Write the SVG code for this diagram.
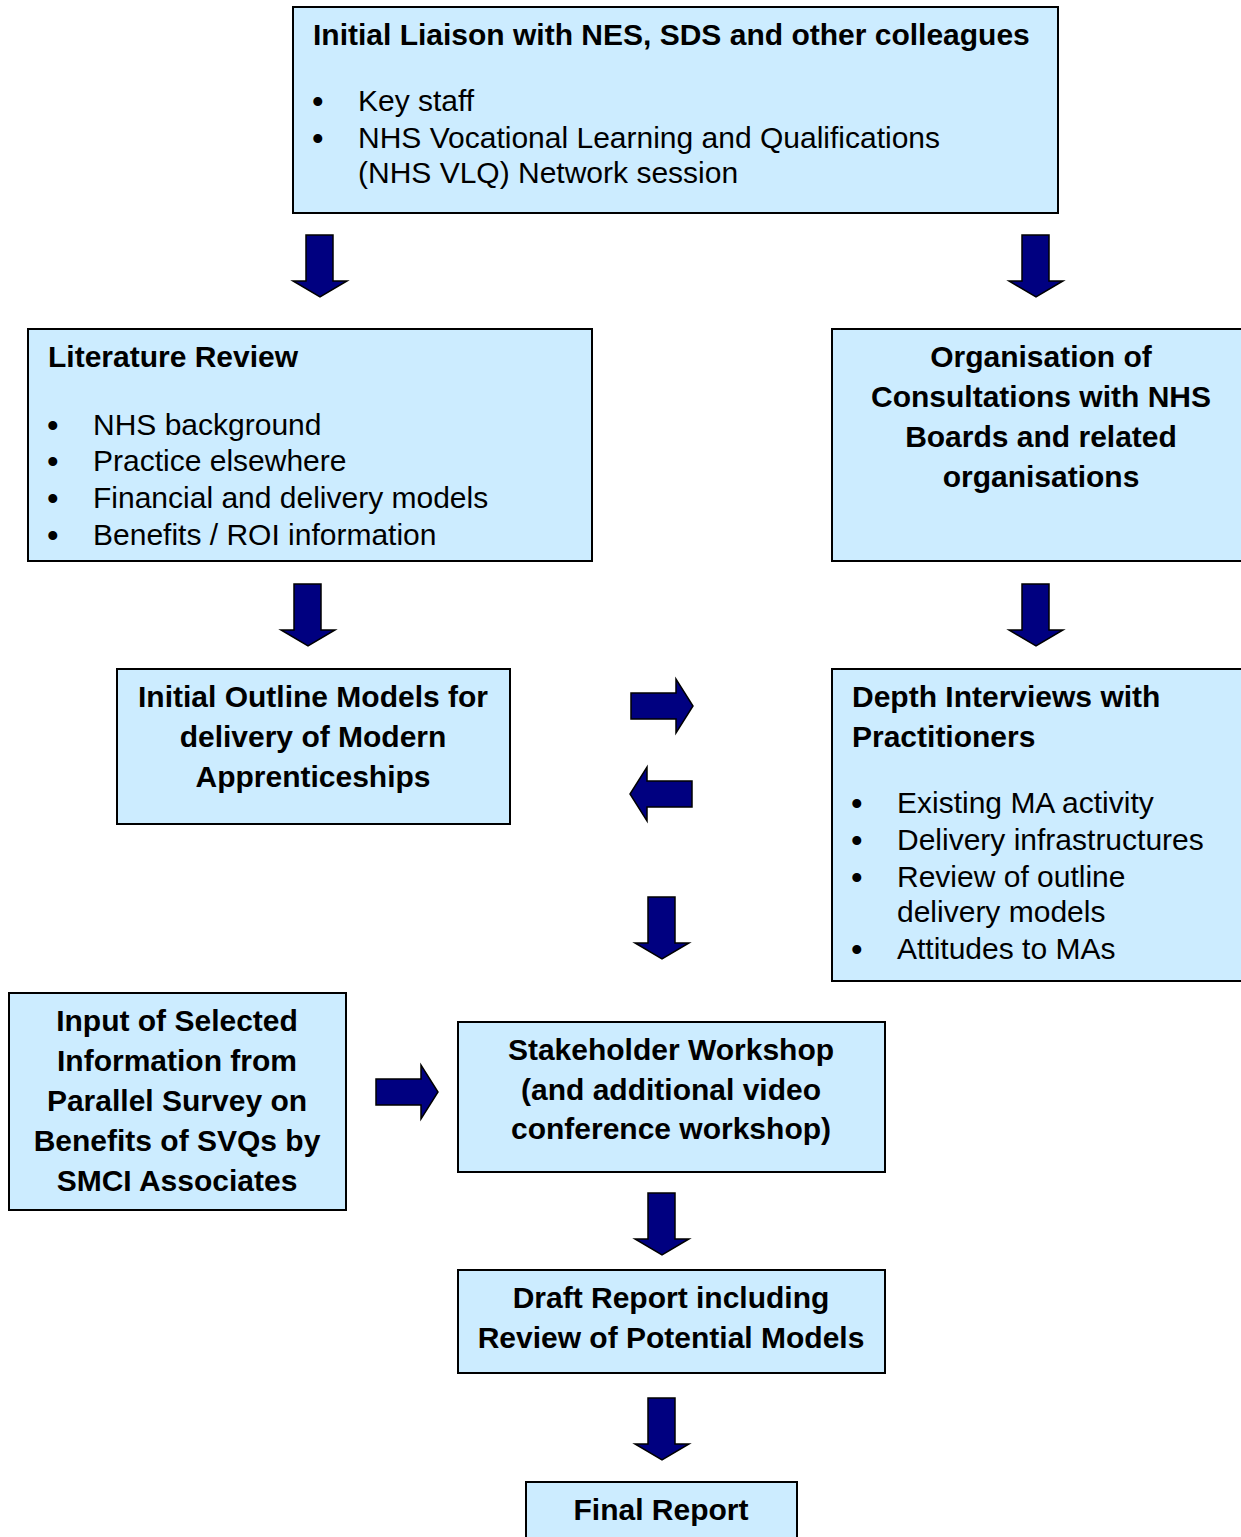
<svg xmlns="http://www.w3.org/2000/svg" width="1241" height="1537" viewBox="0 0 1241 1537">
<style>
.box{fill:#CCECFF;stroke:#000;stroke-width:2}
.arr{fill:#000080;stroke:#000;stroke-width:1.5;stroke-linejoin:miter}
text{font-family:"Liberation Sans",Arial,sans-serif;font-size:30px;fill:#000}
.b{font-weight:bold}
.c{text-anchor:middle}
.d{font-size:33px}
</style>
<defs>
<path id="down" d="M-14,0 H13 V46 H27 L0,62 L-27,46 H-14 Z"/>
<path id="right" d="M0,-13 H45 V-27 L62,0 L45,27 V13 H0 Z"/>
<path id="left" d="M0,-13 H-45 V-27 L-62,0 L-45,27 V13 H0 Z"/>
</defs>
<rect width="1241" height="1537" fill="#fff"/>

<g id="connectors">
<use href="#down" class="arr" x="320" y="235"/>
<use href="#down" class="arr" x="1036" y="235"/>
<use href="#down" class="arr" x="308" y="584"/>
<use href="#down" class="arr" x="1036" y="584"/>
<use href="#right" class="arr" x="631" y="706"/>
<use href="#left" class="arr" x="692" y="794"/>
<use href="#down" class="arr" x="662" y="897"/>
<use href="#right" class="arr" x="376" y="1092"/>
<use href="#down" class="arr" x="662" y="1193"/>
<use href="#down" class="arr" x="662" y="1398"/>
</g>

<g id="liaison">
<rect class="box" x="293" y="7" width="765" height="206"/>
<text class="b" x="313" y="45">Initial Liaison with NES, SDS and other colleagues</text>
<text class="d" x="312" y="113">•</text><text x="358" y="111">Key staff</text>
<text class="d" x="312" y="150">•</text><text x="358" y="148">NHS Vocational Learning and Qualifications</text>
<text x="358" y="183">(NHS VLQ) Network session</text>
</g>

<g id="literature">
<rect class="box" x="28" y="329" width="564" height="232"/>
<text class="b" x="48" y="367">Literature Review</text>
<text class="d" x="47" y="437">•</text><text x="93" y="435">NHS background</text>
<text class="d" x="47" y="473">•</text><text x="93" y="471">Practice elsewhere</text>
<text class="d" x="47" y="510">•</text><text x="93" y="508">Financial and delivery models</text>
<text class="d" x="47" y="547">•</text><text x="93" y="545">Benefits / ROI information</text>
</g>

<g id="organisation">
<rect class="box" x="832" y="329" width="420" height="232"/>
<text class="b c" x="1041" y="367">Organisation of</text>
<text class="b c" x="1041" y="407">Consultations with NHS</text>
<text class="b c" x="1041" y="447">Boards and related</text>
<text class="b c" x="1041" y="487">organisations</text>
</g>

<g id="outline">
<rect class="box" x="117" y="669" width="393" height="155"/>
<text class="b c" x="313" y="707">Initial Outline Models for</text>
<text class="b c" x="313" y="747">delivery of Modern</text>
<text class="b c" x="313" y="787">Apprenticeships</text>
</g>

<g id="depth">
<rect class="box" x="832" y="669" width="420" height="312"/>
<text class="b" x="852" y="707">Depth Interviews with</text>
<text class="b" x="852" y="747">Practitioners</text>
<text class="d" x="851" y="815">•</text><text x="897" y="813">Existing MA activity</text>
<text class="d" x="851" y="852">•</text><text x="897" y="850">Delivery infrastructures</text>
<text class="d" x="851" y="889">•</text><text x="897" y="887">Review of outline</text>
<text x="897" y="922">delivery models</text>
<text class="d" x="851" y="961">•</text><text x="897" y="959">Attitudes to MAs</text>
</g>

<g id="input">
<rect class="box" x="9" y="993" width="337" height="217"/>
<text class="b c" x="177" y="1031">Input of Selected</text>
<text class="b c" x="177" y="1071">Information from</text>
<text class="b c" x="177" y="1111">Parallel Survey on</text>
<text class="b c" x="177" y="1151">Benefits of SVQs by</text>
<text class="b c" x="177" y="1191">SMCI Associates</text>
</g>

<g id="workshop">
<rect class="box" x="458" y="1022" width="427" height="150"/>
<text class="b c" x="671" y="1060">Stakeholder Workshop</text>
<text class="b c" x="671" y="1100">(and additional video</text>
<text class="b c" x="671" y="1139">conference workshop)</text>
</g>

<g id="draft">
<rect class="box" x="458" y="1270" width="427" height="103"/>
<text class="b c" x="671" y="1308">Draft Report including</text>
<text class="b c" x="671" y="1348">Review of Potential Models</text>
</g>

<g id="final">
<rect class="box" x="526" y="1482" width="271" height="70"/>
<text class="b c" x="661" y="1520">Final Report</text>
</g>
</svg>
